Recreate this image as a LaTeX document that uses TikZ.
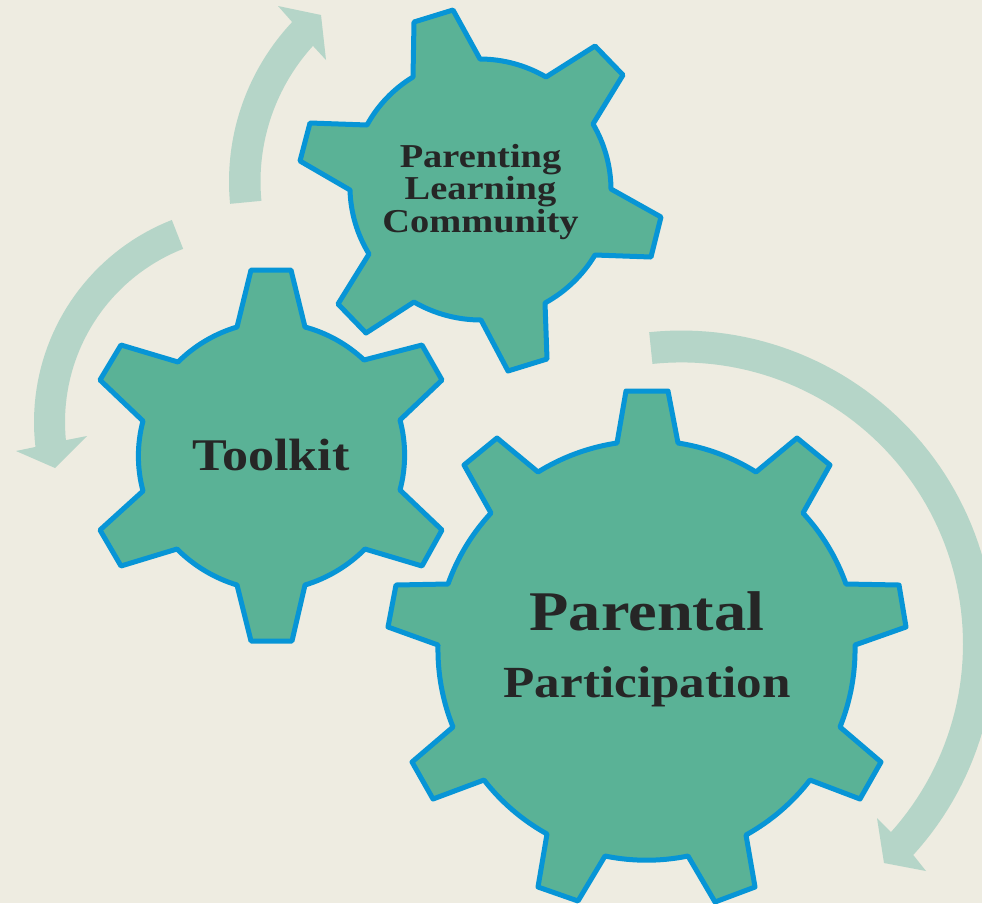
\documentclass[tikz,border=0pt]{standalone}
\usepackage{fontspec}
\setmainfont{Liberation Serif}[FakeStretch=1.15]
\definecolor{bgc}{HTML}{EEECE1}
\definecolor{gearfill}{HTML}{5AB296}
\definecolor{gearline}{HTML}{0795D6}
\definecolor{arrowc}{HTML}{B5D5C8}
\definecolor{textc}{HTML}{262626}
\tikzset{
  gear/.style={fill=gearfill,draw=gearline,line width=5pt,line join=round},
  sweep/.style={fill=arrowc,draw=none},
  rim/.style={bend left=#1,looseness=0.87},
  label/.style={text=textc,align=center,inner sep=0pt}
}
\begin{document}
\begin{tikzpicture}[x=1pt,y=-1pt]
\useasboundingbox (0,0) rectangle (982,903);
\clip (0,0) rectangle (982,903);
\fill[bgc] (0,0) rectangle (982,903);
% sweeping arrows
\fill[sweep] plot[domain=174.5:223.2,samples=40] ({462+233*cos(\x)},{181.5+233*sin(\x)})
  -- (278,6) -- (321,15) -- (326,60)
  -- plot[domain=222.3:174.5,samples=40] ({462+201.5*cos(\x)},{181.5+201.5*sin(\x)}) -- cycle;
\fill[sweep] plot[domain=248.6:173.4,samples=40] ({251+217*cos(\x)},{422+217*sin(\x)})
  -- (16,451) -- (55,468) -- (87,436)
  -- plot[domain=174.4:248.6,samples=40] ({251+186*cos(\x)},{422+186*sin(\x)}) -- cycle;
\fill[sweep] plot[domain=-95.9:42.3,samples=80] ({681.4+313.5*cos(\x)},{644+313.5*sin(\x)})
  -- (926,871) -- (884,863) -- (877,818)
  -- plot[domain=41.9:-95.9,samples=80] ({681.4+281.6*cos(\x)},{644+281.6*sin(\x)}) -- cycle;
% gear: Parenting Learning Community
\draw[gear] (413,77) -- (414,22) -- (453,10) -- (480,59) to[rim=15] (546,77)
  -- (595,46) -- (623,75) -- (593,124) to[rim=15] (611,189)
  -- (661,217) -- (651,257) -- (595,255) to[rim=15] (545,303)
  -- (547,359) -- (508,371) -- (481,320) to[rim=15] (414,302)
  -- (366,333) -- (338,304) -- (369,254) to[rim=15] (350,190)
  -- (300,161) -- (310,123) -- (367,125) to[rim=15] cycle;
% gear: Toolkit
\draw[gear] (237,327) -- (251,270) -- (291,270) -- (305,327) to[rim=14] (364,360)
  -- (422,345) -- (442,380) -- (400,420) to[rim=15] (400,490)
  -- (442,530) -- (422,566) -- (365,549) to[rim=14] (305,585)
  -- (292,641) -- (251,641) -- (237,585) to[rim=14] (177,549)
  -- (121,566) -- (100,530) -- (143,491) to[rim=15] (143,421)
  -- (100,380) -- (121,345) -- (178,362) to[rim=14] cycle;
% gear: Parental Participation
\draw[gear] (617,443) -- (626,391) -- (668,391) -- (678,443) to[rim=11.5] (756,472)
  -- (797,438) -- (830,465) -- (803,513) to[rim=11.5] (846,584)
  -- (899,585) -- (906,627) -- (855,645) to[rim=11.5] (840,727)
  -- (881,762) -- (860,799) -- (810,780) to[rim=11.5] (746,835)
  -- (755,887) -- (715,902) -- (688,856) to[rim=11.5] (605,856)
  -- (578,901) -- (538,887) -- (547,834) to[rim=11.5] (484,780)
  -- (433,799) -- (412,762) -- (453,727) to[rim=11.5] (438,645)
  -- (388,627) -- (396,585) -- (448,584) to[rim=11.5] (491,513)
  -- (464,465) -- (497,438) -- (538,472) to[rim=11.5] cycle;
% labels
\node[label,font=\fontsize{33.4}{32.5}\selectfont\bfseries] (plc) at (480.5,192) {Parenting\\ Learning\\ Community};
\node[label,font=\fontsize{45.3}{46}\selectfont\bfseries] (tk) at (271,455) {Toolkit};
\node[label,font=\fontsize{44.5}{67}\selectfont\bfseries] (pp) at (647,649.5) {{\fontsize{56}{67}\selectfont Parental}\\ Participation};
\end{tikzpicture}
\end{document}
